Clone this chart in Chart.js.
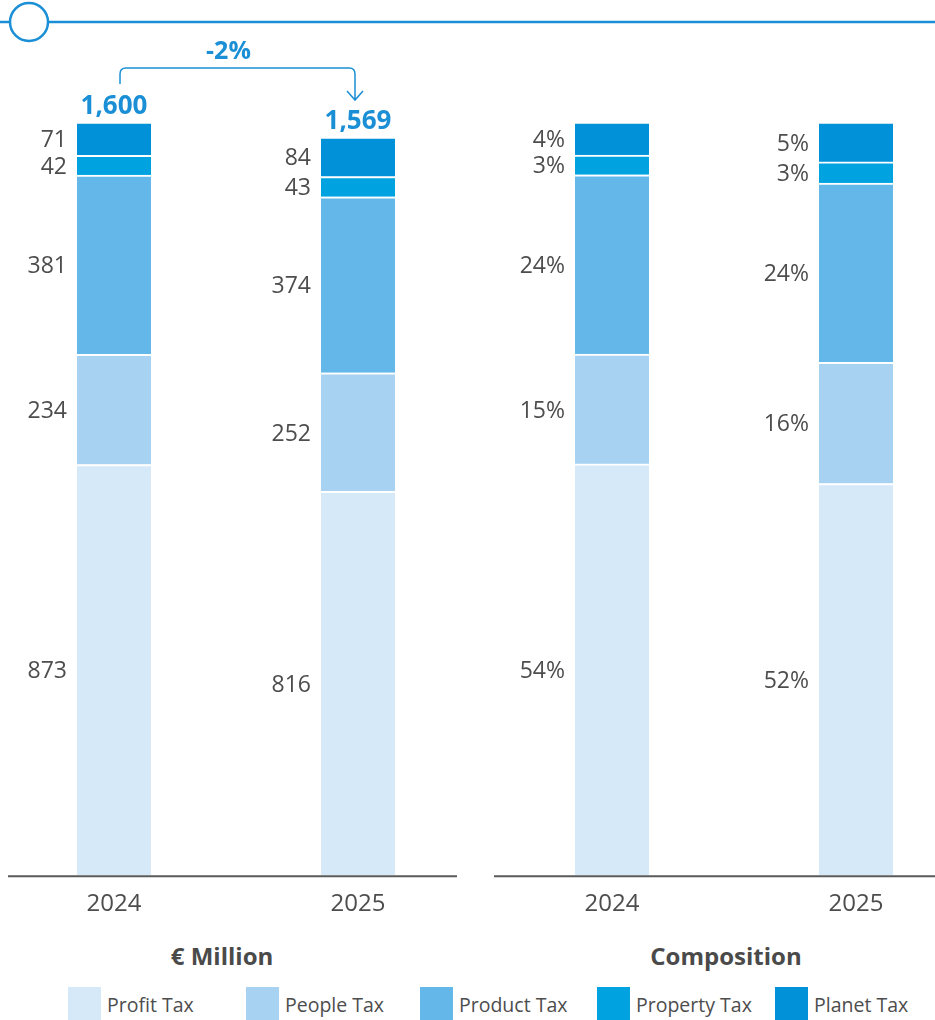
<!DOCTYPE html>
<html>
<head>
<meta charset="utf-8">
<script src="https://cdn.jsdelivr.net/npm/chart.js@4.4.0/dist/chart.umd.min.js"></script>
<style>
    body { margin: 0; width: 935px; height: 1020px; overflow: hidden; position: relative; background: #fff; font-family: "Open Sans", sans-serif; }
    canvas.c { position: absolute; top: 0; }
    #deco { position: absolute; left: 0; top: 0; }
    .title { position: absolute; top: 939px; font-weight: 700; font-size: 24px; color: #4a4a4a; transform: translateX(-50%); white-space: nowrap; }
    .item { position: absolute; top: 987px; height: 34px; display: flex; align-items: center; font-size: 19.5px; color: #4d4d4d; white-space: nowrap; }
    .sw { width: 33px; height: 34px; margin-right: 6px; }
</style>
</head>
<body>
<canvas id="deco" width="935" height="60"></canvas>
<canvas id="amounts" class="c" width="488" height="935" style="left:-8px"></canvas>
<canvas id="shares" class="c" width="488" height="935" style="left:490px"></canvas>
<div class="title" style="left:222px">€ Million</div>
<div class="title" style="left:726px">Composition</div>
<div id="legend"></div>

<script>
// Data
const years = ['2024', '2025'];
const seriesNames = ['Profit Tax', 'People Tax', 'Product Tax', 'Property Tax', 'Planet Tax'];
const seriesColors = ['#d5e9f9', '#a7d2f2', '#63b8e9', '#00a3e0', '#0091d8'];

// € Million
const profitTax = [873, 816];
const peopleTax = [234, 252];
const productTax = [381, 374];
const propertyTax = [42, 43];
const planetTax = [71, 84];
const totals = ['1,600', '1,569'];
const changeLabel = '-2%';

// Composition (%), shares, labels as printed
const profitShare = [54.6, 52.0];
const peopleShare = [14.6, 16.1];
const productShare = [23.8, 23.8];
const propertyShare = [2.6, 2.8];
const planetShare = [4.4, 5.3];
const profitPct = ['54%', '52%'];
const peoplePct = ['15%', '16%'];
const productPct = ['24%', '24%'];
const propertyPct = ['3%', '3%'];
const planetPct = ['4%', '5%'];

const BLUE = '#1b8fd5';
const TEXT = '#4d4d4d';
const FONT = '"Open Sans", sans-serif';

// Top decoration: line with a circle
function drawDeco() {
    const ctx = document.getElementById('deco').getContext('2d');
    ctx.strokeStyle = BLUE;
    ctx.lineWidth = 2.5;
    ctx.beginPath();
    ctx.moveTo(0, 22);
    ctx.lineTo(935, 22);
    ctx.stroke();
    ctx.beginPath();
    ctx.arc(29, 22, 19, 0, Math.PI * 2);
    ctx.fillStyle = '#fff';
    ctx.fill();
    ctx.stroke();
}

// Legend built from the series names and colours
function drawLegend() {
    const xs = [68, 246, 420, 597, 775];
    const legend = document.getElementById('legend');
    legend.innerHTML = seriesNames.map((name, i) => `
        <div class="item" style="left:${xs[i]}px">
            <div class="sw" style="background:${seriesColors[i]}"></div>${name}
        </div>`).join('');
}

function makeDatasets(valueArrays) {
    return valueArrays.map((values, i) => ({
        label: seriesNames[i],
        data: values,
        backgroundColor: seriesColors[i],
        borderColor: '#fff',
        borderWidth: { top: 2, left: 0, right: 0, bottom: 0 },
        borderSkipped: 'start',
        barThickness: 74
    }));
}

// Plugin: labels to the left of each segment + baseline
function segmentLabels(labelArrays, lineFrom, lineTo) {
    return {
        id: 'segmentLabels',
        afterDatasetsDraw(chart) {
            const ctx = chart.ctx;
            ctx.save();
            ctx.font = '23px ' + FONT;
            ctx.fillStyle = TEXT;
            ctx.textAlign = 'right';
            ctx.textBaseline = 'middle';
            chart.data.datasets.forEach((ds, i) => {
                chart.getDatasetMeta(i).data.forEach((bar, j) => {
                    const y = (bar.y + bar.base) / 2;
                    ctx.fillText(labelArrays[i][j], bar.x - bar.width / 2 - 10, y + 2);
                });
            });
            // baseline
            ctx.strokeStyle = '#5a5a5a';
            ctx.lineWidth = 2;
            ctx.beginPath();
            ctx.moveTo(lineFrom, chart.chartArea.bottom + 1);
            ctx.lineTo(lineTo, chart.chartArea.bottom + 1);
            ctx.stroke();
            ctx.restore();
        }
    };
}

// Plugin: totals above bars and the change bracket
const totalsPlugin = {
    id: 'totals',
    afterDatasetsDraw(chart) {
        const ctx = chart.ctx;
        const top = chart.getDatasetMeta(chart.data.datasets.length - 1).data;
        ctx.save();
        ctx.font = 'bold 26px ' + FONT;
        ctx.fillStyle = BLUE;
        ctx.textAlign = 'center';
        ctx.textBaseline = 'middle';
        top.forEach((bar, j) => ctx.fillText(totals[j], bar.x, bar.y - 15));

        const x0 = top[0].x + 6, x1 = top[1].x - 3;
        const yTop = 68, r = 6;
        ctx.strokeStyle = BLUE;
        ctx.lineWidth = 1.5;
        ctx.beginPath();
        ctx.moveTo(x0, 84);
        ctx.lineTo(x0, yTop + r);
        ctx.quadraticCurveTo(x0, yTop, x0 + r, yTop);
        ctx.lineTo(x1 - r, yTop);
        ctx.quadraticCurveTo(x1, yTop, x1, yTop + r);
        ctx.lineTo(x1, 100);
        ctx.moveTo(x1 - 8, 91);
        ctx.lineTo(x1, 100);
        ctx.lineTo(x1 + 8, 91);
        ctx.stroke();

        ctx.font = 'bold 25px ' + FONT;
        ctx.fillText(changeLabel, (x0 + x1) / 2 - 9, 52);
        ctx.restore();
    }
};

function chartOptions(max) {
    return {
        responsive: false,
        animation: false,
        layout: { padding: { top: 122, bottom: 1, left: 0, right: 0 } },
        plugins: { legend: { display: false }, tooltip: { enabled: false } },
        scales: {
            x: {
                stacked: true,
                grid: { display: false, drawTicks: false },
                border: { display: false },
                ticks: { padding: 15, color: TEXT, font: { family: FONT, size: 24 } }
            },
            y: {
                stacked: true,
                display: false,
                min: 0,
                max: max
            }
        }
    };
}

function initCharts() {
    drawDeco();
    drawLegend();

    const amountData = [profitTax, peopleTax, productTax, propertyTax, planetTax];
    new Chart(document.getElementById('amounts'), {
        type: 'bar',
        data: { labels: years, datasets: makeDatasets(amountData) },
        options: chartOptions(1601),
        plugins: [segmentLabels(amountData, 16, 465), totalsPlugin]
    });

    const shareData = [profitShare, peopleShare, productShare, propertyShare, planetShare];
    const pctData = [profitPct, peoplePct, productPct, propertyPct, planetPct];
    new Chart(document.getElementById('shares'), {
        type: 'bar',
        data: { labels: years, datasets: makeDatasets(shareData) },
        options: chartOptions(100),
        plugins: [segmentLabels(pctData, 4, 445)]
    });
}

document.addEventListener('DOMContentLoaded', initCharts);
</script>
</body>
</html>
